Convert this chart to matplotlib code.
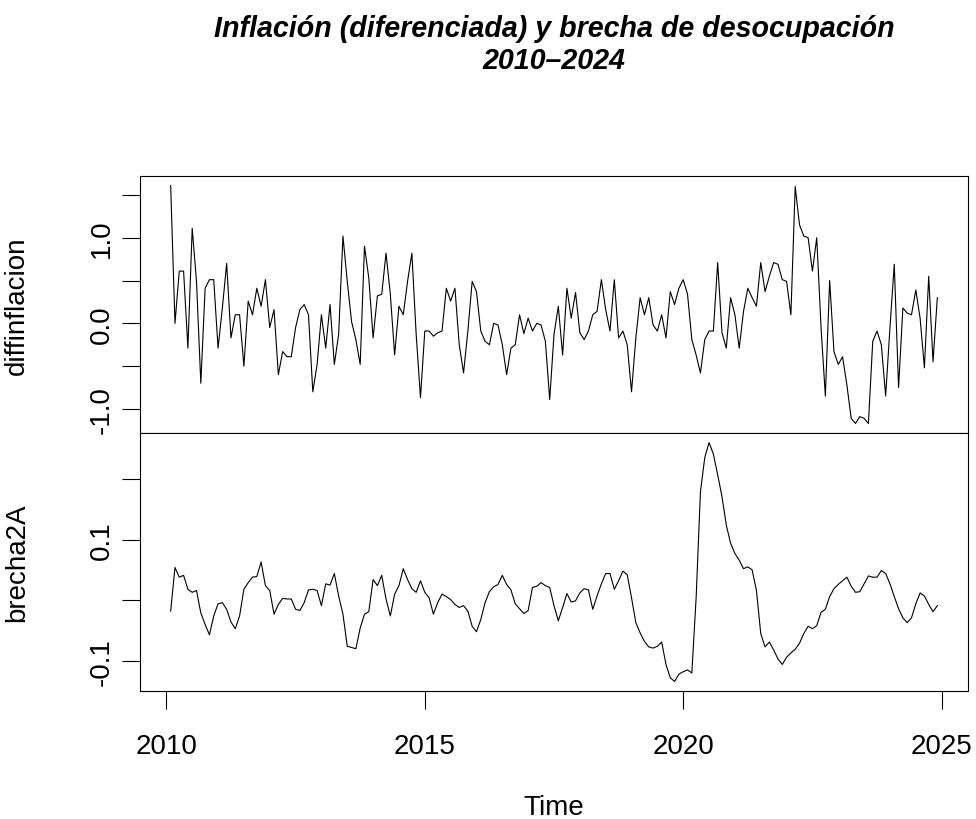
import numpy as np
import matplotlib
matplotlib.use("Agg")
import matplotlib.pyplot as plt

plt.rcParams['font.family'] = ['Liberation Sans', 'DejaVu Sans']

# serie mensual, feb-2010 a dic-2024
diffinflacion = [
    1.61, 0.00, 0.61, 0.61, -0.29, 1.11, 0.49, -0.70, 0.41, 0.51,
    0.51, -0.29, 0.18, 0.70, -0.17, 0.10, 0.10, -0.50, 0.26, 0.10,
    0.41, 0.20, 0.51, -0.05, 0.16, -0.60, -0.33, -0.39, -0.39, -0.05,
    0.16, 0.22, 0.10, -0.80, -0.48, 0.10, -0.29, 0.22, -0.48, -0.13,
    1.02, 0.49, 0.02, -0.19, -0.48, 0.90, 0.53, -0.17, 0.32, 0.34,
    0.82, 0.34, -0.37, 0.20, 0.10, 0.49, 0.82, -0.13, -0.87, -0.09,
    -0.09, -0.15, -0.11, -0.09, 0.41, 0.26, 0.41, -0.25, -0.58, -0.09,
    0.49, 0.37, -0.09, -0.21, -0.25, 0.00, -0.02, -0.25, -0.60, -0.29,
    -0.25, 0.10, -0.12, 0.06, -0.09, 0.00, -0.02, -0.21, -0.89, -0.13,
    0.20, -0.37, 0.41, 0.06, 0.36, -0.11, -0.19, -0.09, 0.10, 0.14,
    0.51, 0.16, -0.09, 0.51, -0.17, -0.09, -0.25, -0.80, -0.17, 0.30,
    0.10, 0.30, -0.02, -0.09, 0.10, -0.17, 0.37, 0.22, 0.41, 0.51,
    0.34, -0.19, -0.37, -0.58, -0.19, -0.09, -0.09, 0.71, -0.11, -0.29,
    0.30, 0.10, -0.29, 0.14, 0.41, 0.30, 0.20, 0.71, 0.37, 0.55,
    0.71, 0.69, 0.51, 0.49, 0.10, 1.60, 1.15, 1.02, 1.00, 0.61,
    1.00, -0.05, -0.85, 0.50, -0.33, -0.48, -0.39, -0.72, -1.11, -1.17,
    -1.09, -1.11, -1.17, -0.21, -0.09, -0.25, -0.85, -0.05, 0.69, -0.75,
    0.18, 0.12, 0.10, 0.39, 0.06, -0.52, 0.55, -0.45, 0.30,
]

brecha2A = [
    -0.018, 0.054, 0.038, 0.041, 0.018, 0.013, 0.016, -0.021, -0.040, -0.057,
    -0.026, -0.006, -0.004, -0.015, -0.036, -0.047, -0.026, 0.018, 0.029, 0.038,
    0.039, 0.063, 0.024, 0.016, -0.023, -0.007, 0.003, 0.002, 0.002, -0.015,
    -0.017, -0.004, 0.017, 0.018, 0.016, -0.009, 0.027, 0.025, 0.044, 0.007,
    -0.023, -0.076, -0.078, -0.080, -0.046, -0.023, -0.019, 0.034, 0.024, 0.041,
    0.002, -0.026, 0.010, 0.024, 0.052, 0.034, 0.019, 0.013, 0.032, 0.013,
    0.004, -0.023, -0.004, 0.010, 0.006, 0.001, -0.007, -0.012, -0.009, -0.018,
    -0.043, -0.052, -0.032, -0.004, 0.014, 0.022, 0.026, 0.041, 0.026, 0.017,
    -0.006, -0.014, -0.022, -0.017, 0.021, 0.023, 0.029, 0.024, 0.021, -0.009,
    -0.034, -0.012, 0.011, -0.003, -0.001, 0.012, 0.019, 0.017, -0.015, 0.007,
    0.027, 0.044, 0.044, 0.018, 0.032, 0.048, 0.042, 0.004, -0.037, -0.054,
    -0.068, -0.077, -0.079, -0.076, -0.069, -0.106, -0.128, -0.134, -0.122, -0.118,
    -0.115, -0.120, 0.004, 0.179, 0.235, 0.260, 0.241, 0.207, 0.171, 0.124,
    0.094, 0.077, 0.066, 0.052, 0.055, 0.050, 0.016, -0.055, -0.077, -0.069,
    -0.082, -0.097, -0.106, -0.094, -0.087, -0.081, -0.071, -0.055, -0.043, -0.047,
    -0.042, -0.020, -0.015, 0.006, 0.019, 0.026, 0.032, 0.038, 0.023, 0.013,
    0.014, 0.027, 0.040, 0.038, 0.038, 0.049, 0.044, 0.027, 0.006, -0.014,
    -0.029, -0.037, -0.029, -0.006, 0.012, 0.007, -0.007, -0.019, -0.009,
]

inicio = 2010 + 1 / 12
tiempo = inicio + np.arange(len(diffinflacion)) / 12

xticks = [2010, 2015, 2020, 2025]
yticks_top = [-1.0, -0.5, 0.0, 0.5, 1.0, 1.5]
ylabels_top = ["-1.0", "", "0.0", "", "1.0", ""]
yticks_bot = [-0.1, 0.0, 0.1, 0.2]
ylabels_bot = ["-0.1", "", "0.1", ""]

W, H = 976, 820
fig = plt.figure(figsize=(W / 100, H / 100), dpi=100)

left, right = 140 / W, 968 / W
y_top, y_mid, y_bot = 1 - 177 / H, 1 - 434 / H, 1 - 692 / H

ax1 = fig.add_axes([left, y_mid, right - left, y_top - y_mid])
ax2 = fig.add_axes([left, y_bot, right - left, y_mid - y_bot], sharex=ax1)

ax1.plot(tiempo, diffinflacion, color="black", lw=0.8)
ax2.plot(tiempo, brecha2A, color="black", lw=0.8)

for ax in (ax1, ax2):
    ax.margins(x=0.04, y=0.04)
    for s in ax.spines.values():
        s.set_linewidth(0.8)
    ax.tick_params(axis="y", length=13, width=0.8, pad=5, labelsize=20)

ax1.set_yticks(yticks_top)
ax1.set_yticklabels(ylabels_top, rotation=90, va="center")
ax2.set_yticks(yticks_bot)
ax2.set_yticklabels(ylabels_bot, rotation=90, va="center")

ax1.tick_params(axis="x", bottom=False, labelbottom=False)
ax2.set_xticks(xticks)
ax2.set_xticklabels([str(t) for t in xticks])
ax2.tick_params(axis="x", length=13, width=0.8, pad=17, labelsize=20)

ax1.set_ylabel("diffinflacion", fontsize=20)
ax1.yaxis.set_label_coords((30 - 140) / 828, 0.5)
ax2.set_ylabel("brecha2A", fontsize=20)
ax2.yaxis.set_label_coords((30 - 140) / 828, 0.5)
ax2.set_xlabel("Time", fontsize=20, va="center")
ax2.xaxis.set_label_coords(0.5, (692 - 808) / 258)

fig.suptitle("Inflación (diferenciada) y brecha de desocupación\n2010–2024",
             x=554 / W, y=1 - 45 / H, va="center", fontsize=20.6,
             fontweight="bold", fontstyle="italic", linespacing=1.15)

fig.savefig("out.png", dpi=100)
